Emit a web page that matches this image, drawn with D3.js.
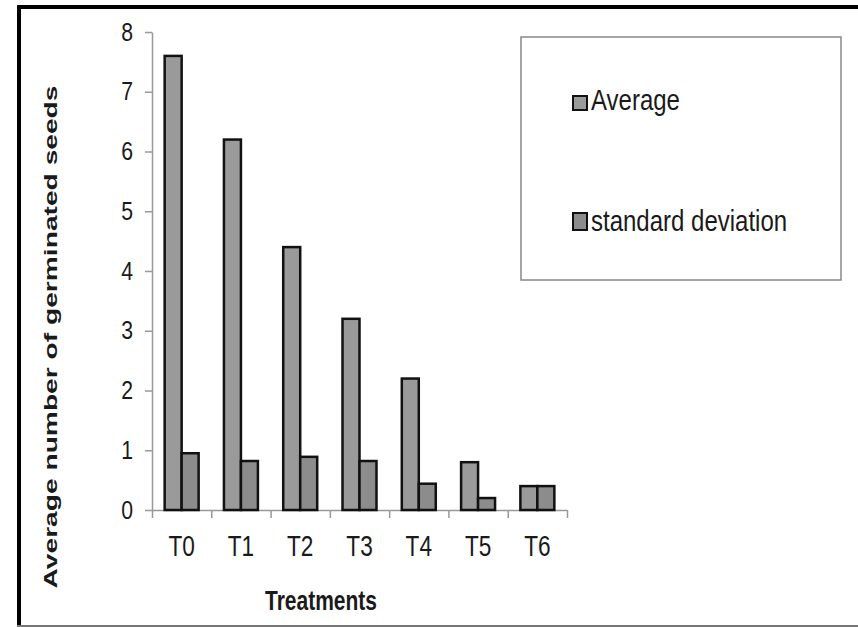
<!DOCTYPE html>
<html>
<head>
<meta charset="utf-8">
<script src="https://cdn.jsdelivr.net/npm/d3@7"></script>
<style>
  html, body { margin: 0; padding: 0; background: #fff; }
  svg { display: block; }
  text { font-family: "Liberation Sans", Arial, sans-serif; fill: #1a1a1a; }
</style>
</head>
<body>
<svg id="chart" width="858" height="627"></svg>
<script>
// ---- data ----
const categories = ["T0", "T1", "T2", "T3", "T4", "T5", "T6"];
const seriesNames = ["Average", "standard deviation"];
const averageValues = [7.6, 6.2, 4.4, 3.2, 2.2, 0.8, 0.4];
const stdValues = [0.95, 0.82, 0.89, 0.82, 0.44, 0.2, 0.4];
const yTicks = [0, 1, 2, 3, 4, 5, 6, 7, 8];
const seriesColors = ["#9a9a9a", "#8c8c8c"];

(function () {
const svg = d3.select("#chart");

// squeeze text horizontally (condensed look of the reference)
function squeeze(sel, factor) {
  sel.each(function () {
    const len = this.getComputedTextLength();
    d3.select(this).attr("textLength", len * factor).attr("lengthAdjust", "spacingAndGlyphs");
  });
}

// frame
svg.append("line").attr("x1", 17).attr("x2", 858).attr("y1", 7).attr("y2", 7)
  .attr("stroke", "#000").attr("stroke-width", 4);
svg.append("line").attr("x1", 19).attr("x2", 19).attr("y1", 5).attr("y2", 627)
  .attr("stroke", "#000").attr("stroke-width", 4);
svg.append("line").attr("x1", 17).attr("x2", 858).attr("y1", 626).attr("y2", 626)
  .attr("stroke", "#777").attr("stroke-width", 2);

// scales
const plotLeft = 152, plotRight = 567, plotTop = 32, plotBottom = 510;
const x = d3.scaleBand().domain(categories).range([plotLeft, plotRight]).paddingInner(0.427).paddingOuter(0.2135);
const xSub = d3.scaleBand().domain(seriesNames).range([0, x.bandwidth()]);
const y = d3.scaleLinear().domain([0, 8]).range([plotBottom, plotTop]);
const xEdge = d3.scaleLinear().domain([0, categories.length]).range([plotLeft, plotRight]);

// y axis
const yAxis = svg.append("g").attr("transform", `translate(${plotLeft},0)`)
  .call(d3.axisLeft(y).tickValues(yTicks).tickFormat(d3.format("d")).tickSize(7).tickSizeOuter(0).tickPadding(12));
yAxis.select(".domain").attr("stroke", "#999").attr("stroke-width", 1.5);
yAxis.selectAll(".tick line").attr("stroke", "#999").attr("stroke-width", 1.5);
yAxis.selectAll(".tick text").attr("font-size", 25).attr("fill", "#1a1a1a")
  .attr("font-family", "'Liberation Sans', Arial, sans-serif").call(squeeze, 0.85);

// x axis (ticks at category edges)
const xAxis = svg.append("g").attr("transform", `translate(0,${plotBottom})`)
  .call(d3.axisBottom(xEdge).tickValues(d3.range(categories.length + 1)).tickFormat("").tickSize(8).tickSizeOuter(0));
xAxis.select(".domain").attr("stroke", "#999").attr("stroke-width", 1.5);
xAxis.selectAll(".tick line").attr("stroke", "#999").attr("stroke-width", 1.5);

// category labels
const xLab = svg.append("g").attr("transform", `translate(0,${plotBottom})`)
  .call(d3.axisBottom(x).tickSize(0).tickPadding(0));
xLab.select(".domain").remove();
xLab.selectAll(".tick text").attr("font-size", 29).attr("dy", null).attr("y", 46)
  .attr("fill", "#1a1a1a").attr("font-family", "'Liberation Sans', Arial, sans-serif")
  .call(squeeze, 0.78);

// bars
const data = categories.map((c, i) => ({ cat: c, vals: [averageValues[i], stdValues[i]] }));
const groups = svg.append("g").selectAll("g").data(data).join("g")
  .attr("transform", d => `translate(${x(d.cat)},0)`);
groups.selectAll("rect").data(d => d.vals.map((v, j) => ({ name: seriesNames[j], v, j })))
  .join("rect")
  .attr("x", d => xSub(d.name))
  .attr("width", xSub.bandwidth())
  .attr("y", d => y(d.v))
  .attr("height", d => y(0) - y(d.v))
  .attr("fill", d => seriesColors[d.j])
  .attr("stroke", "#111")
  .attr("stroke-width", 2.5);

// axis titles
svg.append("text")
  .attr("transform", "translate(57,337) rotate(-90)")
  .attr("text-anchor", "middle")
  .attr("font-weight", "bold").attr("font-size", 18)
  .attr("textLength", 503).attr("lengthAdjust", "spacingAndGlyphs")
  .text("Average number of germinated seeds");

svg.append("text")
  .attr("x", 321).attr("y", 610)
  .attr("text-anchor", "middle")
  .attr("font-weight", "bold").attr("font-size", 28)
  .attr("textLength", 112).attr("lengthAdjust", "spacingAndGlyphs")
  .text("Treatments");

// legend
const legend = svg.append("g");
legend.append("rect").attr("x", 521).attr("y", 37).attr("width", 320).attr("height", 243)
  .attr("fill", "#fff").attr("stroke", "#888").attr("stroke-width", 1.5);
const legendRows = [{ y: 110, sq: [96, 14] }, { y: 231, sq: [213, 17] }];
seriesNames.forEach((name, i) => {
  const row = legendRows[i];
  legend.append("rect").attr("x", 573).attr("y", row.sq[0]).attr("width", 14).attr("height", row.sq[1])
    .attr("fill", seriesColors[i]).attr("stroke", "#111").attr("stroke-width", 2);
  legend.append("text").attr("x", 591).attr("y", row.y).attr("font-size", 30)
    .text(name).call(squeeze, 0.8);
});
})();
</script>
</body>
</html>
